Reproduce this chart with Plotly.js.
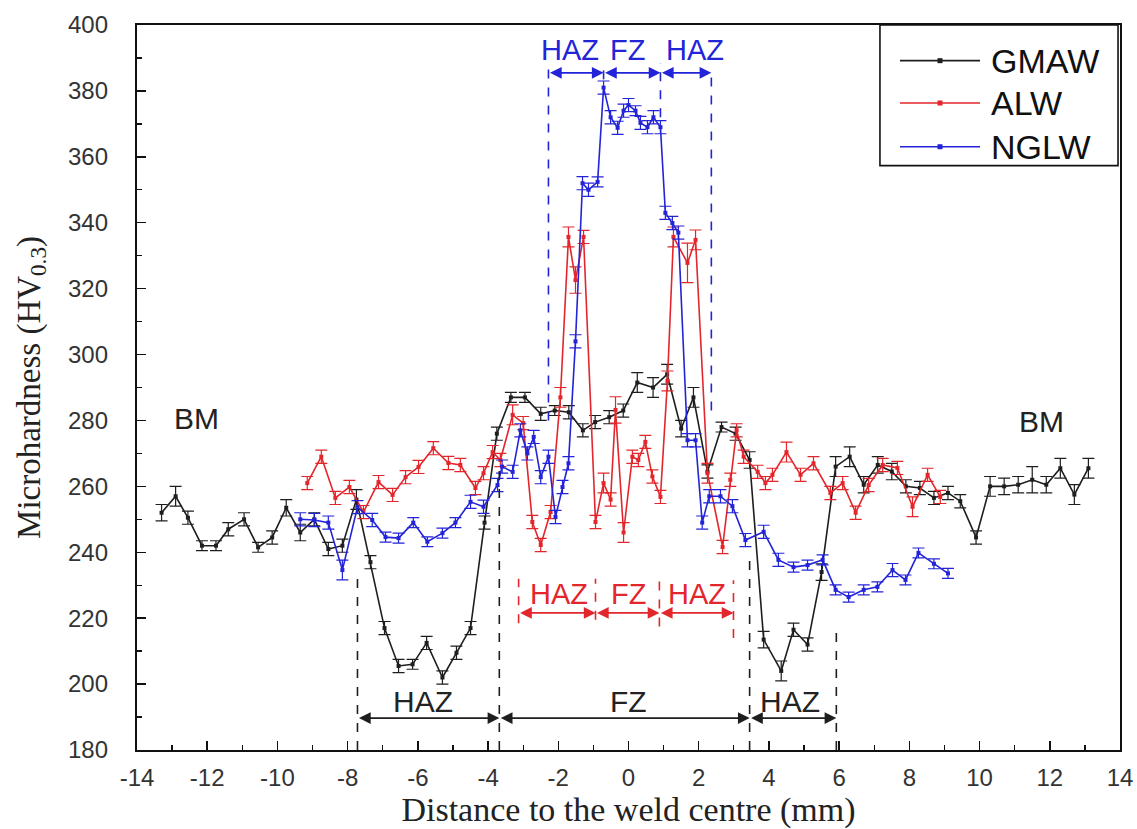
<!DOCTYPE html>
<html>
<head>
<meta charset="utf-8">
<script src="https://cdn.plot.ly/plotly-3.0.1.min.js"></script>
<style>html,body{margin:0;padding:0;background:#fff;}#chart{width:1137px;height:829px;}</style>
</head>
<body>
<div id="chart"></div>
<script>
// ---- data ----
const gmawX = [-13.3, -12.9, -12.55, -12.15, -11.75, -11.4, -10.95, -10.55, -10.15, -9.75, -9.35, -8.95, -8.55, -8.15, -7.75, -7.35, -6.95, -6.55, -6.15, -5.75, -5.3, -4.9, -4.5, -4.1, -3.75, -3.35, -2.95, -2.5, -2.1, -1.7, -1.3, -0.95, -0.55, -0.15, 0.25, 0.7, 1.1, 1.5, 1.85, 2.25, 2.65, 3.05, 3.45, 3.85, 4.35, 4.7, 5.1, 5.5, 5.9, 6.3, 6.7, 7.1, 7.5, 7.9, 8.3, 8.7, 9.1, 9.45, 9.9, 10.3, 10.7, 11.1, 11.5, 11.9, 12.3, 12.7, 13.1];
const gmawY = [252, 257, 250.5, 242, 242, 247, 250, 241.5, 244.5, 253.5, 246, 250, 241, 242, 256, 237, 217, 205.5, 206, 212.5, 202, 209.5, 217, 249, 276, 287, 287, 282, 283, 282.5, 277, 279.5, 281, 283, 291.5, 290, 294, 277.5, 287, 264.5, 278, 276, 268, 213.5, 204, 216.5, 212, 234, 266, 269, 260.5, 266.5, 264.5, 260, 259.5, 256.5, 258, 255.5, 244.5, 260, 260, 260.5, 262, 260.5, 265.5, 257.5, 265.5];
const gmawErr = [2.5, 3, 2, 1.5, 1.5, 2, 2, 1.5, 2, 2.5, 2.5, 2, 2, 2, 3, 2, 2, 2, 1.5, 2, 2, 2, 2, 2, 2, 1.5, 1.5, 2, 1.5, 2, 2, 2, 2, 2, 3, 3, 3, 2.5, 3, 2, 1.5, 2, 2.5, 2.5, 3, 2, 2, 2.5, 3, 3, 2.5, 2.5, 2.5, 2, 2, 2, 2, 2, 2, 3, 2.5, 2.5, 4, 2.5, 3, 3, 3];

const alwX = [-9.15, -8.75, -8.35, -7.95, -7.55, -7.12, -6.72, -6.35, -5.98, -5.56, -5.13, -4.79, -4.36, -4.13, -3.87, -3.65, -3.3, -3.0, -2.74, -2.5, -2.22, -1.94, -1.71, -1.51, -1.28, -0.94, -0.71, -0.51, -0.37, -0.14, 0.11, 0.28, 0.48, 0.68, 0.91, 1.11, 1.28, 1.68, 1.91, 2.25, 2.68, 2.9, 3.08, 3.28, 3.68, 3.9, 4.1, 4.5, 4.9, 5.27, 5.75, 6.1, 6.47, 6.84, 7.24, 7.66, 8.09, 8.52, 8.88];
const alwY = [261, 269, 256.5, 259.8, 252.2, 261.3, 257.4, 262.8, 265.9, 271.6, 267.1, 266.5, 259.5, 264, 270.4, 268, 281.7, 279.2, 249.2, 242.2, 252.2, 287, 335.7, 322.6, 335.7, 249.2, 261, 256, 283.2, 246, 269, 268, 273.5, 263, 256.8, 292, 335.7, 327.8, 334.8, 264, 241.6, 262, 277, 269, 264.4, 261, 263.5, 270.4, 263.5, 267, 258, 261, 252, 260.4, 266.5, 265.6, 253.8, 263.5, 256.8];
const alwErr = [2, 2, 2, 2, 2, 2, 2, 2, 2, 2, 2, 2, 2, 2, 2, 2, 3, 2, 2, 2, 2, 3, 3, 4, 2, 2, 3, 2, 4, 3, 2, 2, 2, 2, 2, 3, 3, 6, 3, 3, 2, 2, 2, 2, 2, 2, 2, 3, 2, 2, 2, 2, 2, 2, 2, 2, 3, 2, 2];

const nglwX = [-9.35, -8.95, -8.55, -8.15, -7.72, -7.3, -6.92, -6.55, -6.13, -5.73, -5.3, -4.93, -4.5, -4.13, -3.73, -3.6, -3.3, -3.08, -2.88, -2.7, -2.5, -2.28, -2.08, -1.88, -1.71, -1.51, -1.31, -1.14, -0.88, -0.71, -0.51, -0.31, -0.14, 0.0, 0.2, 0.34, 0.54, 0.71, 0.91, 1.05, 1.25, 1.42, 1.68, 1.91, 2.1, 2.3, 2.62, 2.96, 3.33, 3.85, 4.27, 4.7, 5.1, 5.53, 5.9, 6.27, 6.7, 7.09, 7.52, 7.89, 8.26, 8.7, 9.1];
const nglwY = [250, 249.8, 249, 234.6, 253.7, 249.8, 244.6, 244.3, 249, 243.2, 245.8, 249, 255.3, 253.8, 260.4, 266, 264.4, 277, 270, 275, 262.8, 269, 250.7, 259.8, 267, 304, 352, 350, 352.4, 381, 372, 368.8, 374, 375.7, 374, 370.3, 369, 372, 369, 343, 339.9, 337, 274, 274, 249, 257, 257, 254, 243.7, 246.2, 237.7, 235.5, 236.1, 237.7, 228.6, 226.4, 228.6, 229.5, 234.6, 231.6, 239.8, 236.5, 233.6];
const nglwErr = [2, 2, 2, 3, 2, 2, 1.5, 1.5, 1.5, 1.5, 1.5, 1.5, 2, 2, 2, 2, 2, 2, 2, 2, 2, 2, 2, 2, 2, 2, 2, 2, 1.5, 2, 2, 2, 2, 2, 1.5, 2, 2, 2, 2, 2, 2, 2, 2, 2, 2, 2, 2, 2, 2, 2, 2, 1.5, 1.5, 1.5, 1.5, 1.5, 1.5, 1.5, 2, 1.5, 1.5, 1.5, 1.5];

const seriesNames = ['GMAW', 'ALW', 'NGLW'];
const xTicks = [-14, -12, -10, -8, -6, -4, -2, 0, 2, 4, 6, 8, 10, 12, 14];
const yTicks = [180, 200, 220, 240, 260, 280, 300, 320, 340, 360, 380, 400];

// zone labels
const zoneBlack = {bounds: [-7.72, -3.68, 3.45, 5.92], labels: ['HAZ', 'FZ', 'HAZ'], labelX: [-5.84, 0, 4.6]};
const zoneRed = {bounds: [-3.13, -0.94, 0.88, 2.99], labels: ['HAZ', 'FZ', 'HAZ'], labelX: [-1.97, 0.0, 1.94]};
const zoneBlue = {bounds: [-2.28, -0.71, 0.91, 2.36], labels: ['HAZ', 'FZ', 'HAZ'], labelX: [-1.68, -0.03, 1.88]};

// ---- styles ----
const BLACK = '#1e1e1e', RED = '#e3262b', BLUE = '#2323d8';
const colors = [BLACK, RED, BLUE];
const SANS = 'Liberation Sans, Arial, sans-serif';
const SERIF = 'Liberation Serif, Times New Roman, serif';

function trace(name, x, y, err, color) {
  return {
    type: 'scatter', mode: 'lines+markers', name: name, x: x, y: y,
    showlegend: false,
    line: {color: color, width: 1.6},
    marker: {color: color, size: 4, symbol: 'square'},
    error_y: {type: 'data', array: err, visible: true, color: color, thickness: 1.2, width: 6}
  };
}
const data = [
  trace(seriesNames[0], gmawX, gmawY, gmawErr, BLACK),
  trace(seriesNames[1], alwX, alwY, alwErr, RED),
  trace(seriesNames[2], nglwX, nglwY, nglwErr, BLUE)
];

const shapes = [];
const annotations = [];
function vdash(x, y0, y1, color) {
  shapes.push({type: 'line', xref: 'x', yref: 'y', x0: x, x1: x, y0: y0, y1: y1,
    line: {color: color, width: 1.6, dash: 'dash'}});
}
function darrow(xa, xb, y, color) {
  annotations.push({xref: 'x', yref: 'y', axref: 'x', ayref: 'y', x: xb, y: y, ax: xa, ay: y,
    text: '', showarrow: true, arrowhead: 2, arrowside: 'end+start', arrowsize: 1.3,
    arrowwidth: 1.8, arrowcolor: color, standoff: 0, startstandoff: 0});
}
function label(x, y, t, color, size) {
  annotations.push({xref: 'x', yref: 'y', x: x, y: y, text: t, showarrow: false,
    font: {family: SANS, size: size, color: color}});
}

// black zones
vdash(zoneBlack.bounds[0], 180, 232, BLACK);
vdash(zoneBlack.bounds[1], 180, 266, BLACK);
vdash(zoneBlack.bounds[2], 180, 240, BLACK);
vdash(zoneBlack.bounds[3], 180, 218, BLACK);
for (let i = 0; i < 3; i++) {
  darrow(zoneBlack.bounds[i], zoneBlack.bounds[i + 1], 189.7, BLACK);
  label(zoneBlack.labelX[i], 194.8, zoneBlack.labels[i], '#222', 30);
}
// red zones
vdash(zoneRed.bounds[0], 218.5, 232, RED);
vdash(zoneRed.bounds[1], 219.5, 232, RED);
vdash(zoneRed.bounds[2], 217.5, 231.5, RED);
vdash(zoneRed.bounds[3], 214, 231.5, RED);
for (let i = 0; i < 3; i++) {
  darrow(zoneRed.bounds[i], zoneRed.bounds[i + 1], 221.6, RED);
  label(zoneRed.labelX[i], 227.3, zoneRed.labels[i], RED, 29);
}
// blue zones
vdash(zoneBlue.bounds[0], 280, 386.5, BLUE);
vdash(zoneBlue.bounds[1], 383.5, 388.5, BLUE);
vdash(zoneBlue.bounds[2], 372, 388.5, BLUE);
vdash(zoneBlue.bounds[3], 283, 386.5, BLUE);
for (let i = 0; i < 3; i++) {
  darrow(zoneBlue.bounds[i], zoneBlue.bounds[i + 1], 385.5, BLUE);
  label(zoneBlue.labelX[i], 392.4, zoneBlue.labels[i], BLUE, 29);
}
// BM labels
label(-12.3, 280.5, 'BM', '#222', 30);
label(11.75, 279.8, 'BM', '#222', 30);

// legend box (drawn in paper coordinates)
shapes.push({type: 'rect', xref: 'paper', yref: 'paper', x0: 0.7558, x1: 0.998, y0: 0.806, y1: 1.0,
  line: {color: '#111', width: 1.6}, fillcolor: '#fff', layer: 'above'});
const legY = [0.9508, 0.8924, 0.8321];
for (let i = 0; i < 3; i++) {
  shapes.push({type: 'line', xref: 'paper', yref: 'paper', x0: 0.7762, x1: 0.8576, y0: legY[i], y1: legY[i],
    line: {color: colors[i], width: 1.6}, layer: 'above'});
  shapes.push({type: 'rect', xref: 'paper', yref: 'paper', xsizemode: 'pixel', ysizemode: 'pixel',
    xanchor: 0.8169, yanchor: legY[i], x0: -2.5, x1: 2.5, y0: -2.5, y1: 2.5,
    line: {width: 0}, fillcolor: colors[i], layer: 'above'});
  annotations.push({xref: 'paper', yref: 'paper', x: 0.8667, y: legY[i], xanchor: 'left', yanchor: 'middle',
    text: seriesNames[i], showarrow: false, font: {family: SANS, size: 34, color: '#111'}});
}

const axisFont = {family: SANS, size: 24, color: '#333'};
const layout = {
  width: 1137, height: 829,
  margin: {l: 137, r: 17, t: 25, b: 79},
  paper_bgcolor: '#fff', plot_bgcolor: '#fff',
  showlegend: false,
  xaxis: {
    range: [-14, 14], tickmode: 'array', tickvals: xTicks, ticktext: xTicks.map(String),
    ticks: 'inside', ticklen: 9, tickwidth: 1.5, tickcolor: '#111',
    minor: {dtick: 1, ticks: 'inside', ticklen: 5, tickwidth: 1.3, tickcolor: '#111'},
    showline: true, linecolor: '#111', linewidth: 2.2, mirror: true,
    showgrid: false, zeroline: false, tickfont: axisFont, ticklabelstandoff: 5,
    title: {text: 'Distance to the weld centre (mm)', standoff: 2,
      font: {family: SERIF, size: 34, color: '#222'}}
  },
  yaxis: {
    range: [180, 400], tickmode: 'array', tickvals: yTicks, ticktext: yTicks.map(String),
    ticks: 'inside', ticklen: 9, tickwidth: 1.5, tickcolor: '#111',
    minor: {dtick: 10, ticks: 'inside', ticklen: 5, tickwidth: 1.3, tickcolor: '#111'},
    showline: true, linecolor: '#111', linewidth: 2.2, mirror: true,
    showgrid: false, zeroline: false, tickfont: axisFont, ticklabelstandoff: 22,
    title: {text: 'Microhardness (HV<sub>0.3</sub>)', standoff: 18,
      font: {family: SERIF, size: 33, color: '#222'}}
  },
  shapes: shapes,
  annotations: annotations
};

Plotly.newPlot('chart', data, layout, {displayModeBar: false, staticPlot: true});
</script>
</body>
</html>
